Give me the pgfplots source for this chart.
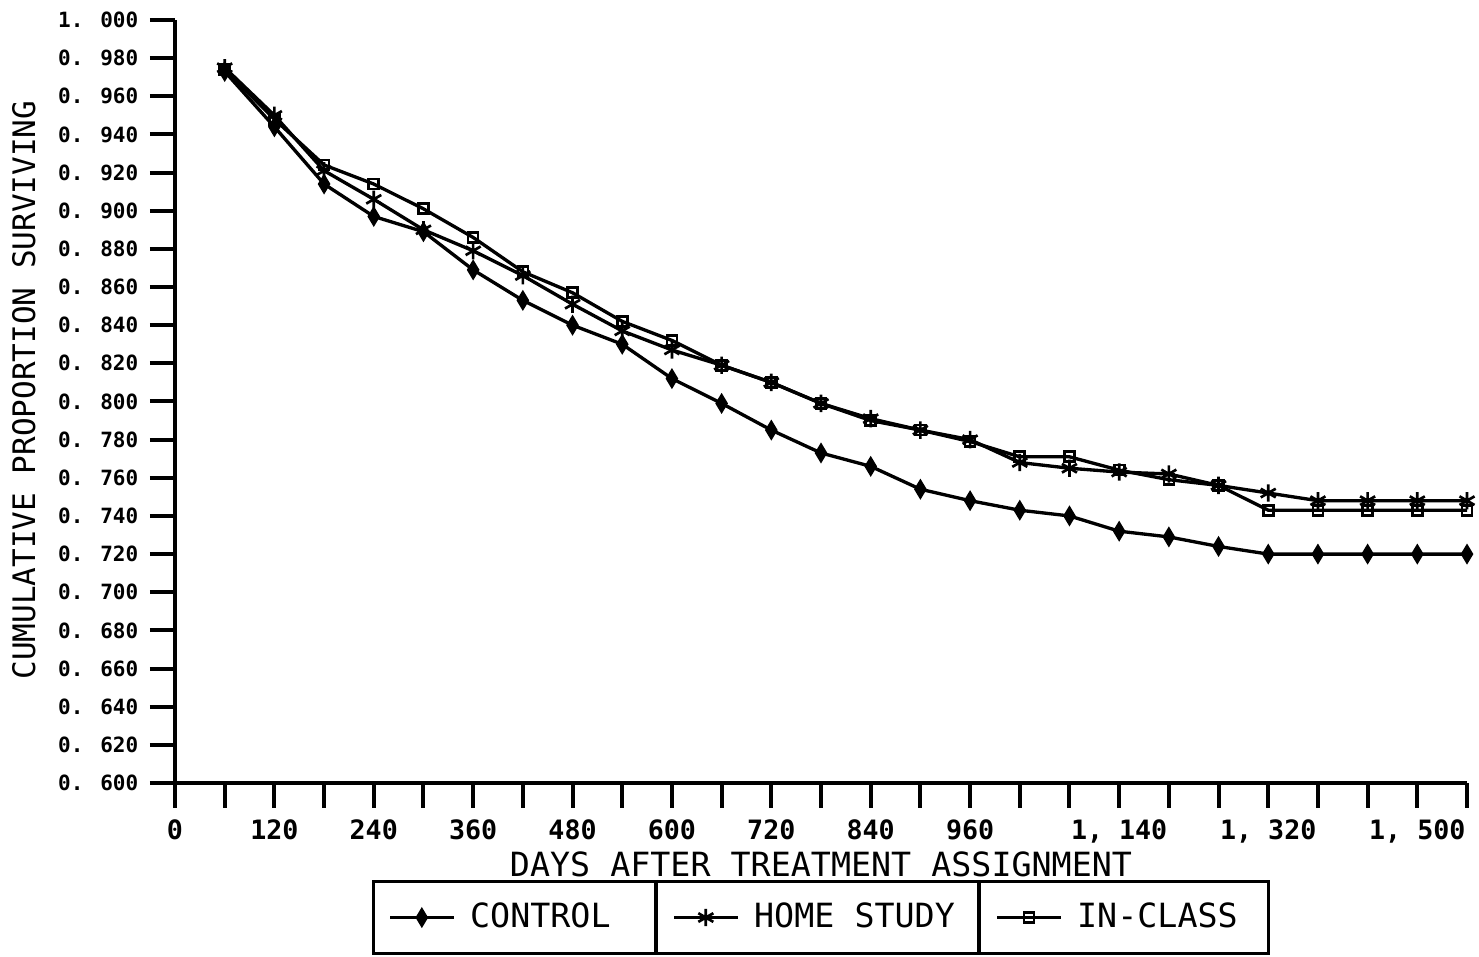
\documentclass[border=0pt]{standalone}
\usepackage{fontspec}
\setmainfont{DejaVu Sans Mono}
\usepackage{pgfplots}
\usepackage{pgfplotstable}
\pgfplotsset{compat=1.18}

% cumulative proportion surviving
\pgfplotstableread{
days control home inclass
60   0.973 0.975 0.974
120  0.944 0.950 0.948
180  0.914 0.921 0.924
240  0.897 0.906 0.914
300  0.889 0.890 0.901
360  0.869 0.879 0.886
420  0.853 0.866 0.868
480  0.840 0.851 0.857
540  0.830 0.837 0.842
600  0.812 0.827 0.832
660  0.799 0.819 0.819
720  0.785 0.810 0.810
780  0.773 0.799 0.799
840  0.766 0.791 0.790
900  0.754 0.785 0.785
960  0.748 0.780 0.779
1020 0.743 0.768 0.771
1080 0.740 0.765 0.771
1140 0.732 0.763 0.764
1200 0.729 0.762 0.759
1260 0.724 0.756 0.756
1320 0.720 0.752 0.743
1380 0.720 0.748 0.743
1440 0.720 0.748 0.743
1500 0.720 0.748 0.743
1560 0.720 0.748 0.743
}\survival

\begin{document}
\begin{tikzpicture}
\begin{axis}[
  name=ax,
  scale only axis,
  width=387.6pt, height=228.9pt,
  xmin=0, xmax=1560, ymin=0.6, ymax=1.0,
  clip=false,
  axis lines*=left,
  axis line style={line width=1.2pt},
  tick style={line width=1.2pt, black},
  major tick length=7.5pt,
  tick align=outside,
  /pgf/number format/assume math mode=true,
  xtick={0,60,...,1560},
  xticklabels={0,,120,,240,,360,,480,,600,,720,,840,,960,,,{1, 140},,,{1, 320},,,{1, 500},},
  ytick={0.60,0.62,0.64,0.66,0.68,0.70,0.72,0.74,0.76,0.78,0.80,0.82,0.84,0.86,0.88,0.90,0.92,0.94,0.96,0.98,1.00},
  yticklabels={0. 600,0. 620,0. 640,0. 660,0. 680,0. 700,0. 720,0. 740,0. 760,0. 780,0. 800,0. 820,0. 840,0. 860,0. 880,0. 900,0. 920,0. 940,0. 960,0. 980,1. 000},
  xticklabel style={font=\fontsize{8}{9}\selectfont\bfseries},
  yticklabel style={font=\fontsize{6.3}{7}\selectfont\bfseries},
  xlabel={DAYS AFTER TREATMENT ASSIGNMENT},
  ylabel={CUMULATIVE PROPORTION SURVIVING},
  xlabel style={at={(axis description cs:0.5,-0.107)}, anchor=center, font=\fontsize{10}{11}\selectfont},
  ylabel style={at={(axis description cs:-0.117,0.515)}, anchor=center, font=\fontsize{9.3}{10}\selectfont},
  legend columns=3,
  legend cell align=left,
  legend style={name=leg, at={(0.5,-0.127)}, anchor=north, draw=black, line width=1pt,
    inner sep=0pt, column sep=0pt, nodes={inner sep=0pt}, font=\fontsize{10}{11}\selectfont},
  legend image code/.code={
    \path[draw=none, fill=none] (-5pt,-10.8pt) rectangle (24pt,10.8pt);
    \draw[mark repeat=2,mark phase=2] plot coordinates {(0pt,0pt) (9.5pt,0pt) (19pt,0pt)};},
]
\addplot[black, line width=1pt, mark=diamond*, mark size=2.2pt, mark options={solid, xscale=0.8}]
  table[x=days, y=control]{\survival};
\addlegendentry{\makebox[56.2pt][l]{CONTROL}}
\addplot[black, line width=1pt, mark=asterisk, mark size=2.6pt, mark options={solid, line width=0.8pt}]
  table[x=days, y=home]{\survival};
\addlegendentry{\makebox[67.9pt][l]{HOME STUDY}}
\addplot[black, line width=1pt, mark=square, mark size=1.5pt, mark options={solid, line width=0.8pt}]
  table[x=days, y=inclass]{\survival};
\addlegendentry{\makebox[57.4pt][l]{IN-CLASS}}
\end{axis}
\draw[line width=1pt] ([xshift=85.2pt]leg.north west) -- ([xshift=85.2pt]leg.south west);
\draw[line width=1pt] ([xshift=182.1pt]leg.north west) -- ([xshift=182.1pt]leg.south west);
\path ([shift={(-52.5pt,-50.7pt)}]ax.south west) rectangle ([shift={(3.6pt,6pt)}]ax.north east);
\end{tikzpicture}
\end{document}
